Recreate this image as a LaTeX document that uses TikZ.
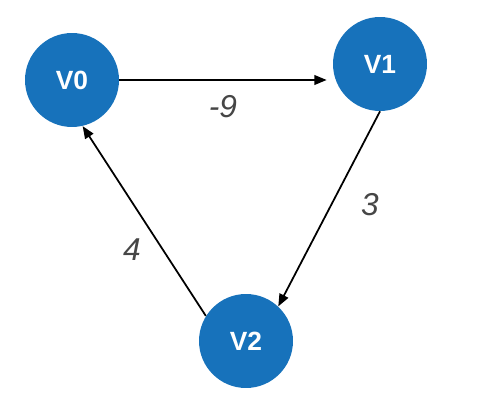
\documentclass[tikz,border=0pt]{standalone}
\usepackage{fontspec}
\setmainfont{Liberation Sans}
\usetikzlibrary{arrows.meta}
\definecolor{vblue}{RGB}{23,114,187}
\definecolor{wgray}{RGB}{70,70,70}
\begin{document}
\begin{tikzpicture}[x=0.02cm,y=-0.02cm,
        vertex/.style={circle,fill=vblue,minimum size=1.88cm,inner sep=0pt,text=white,font=\fontsize{15}{18}\selectfont\bfseries},
        edge/.style={-{Triangle[length=7pt,width=5.5pt]},line width=1pt},
        weight/.style={text=wgray,font=\fontsize{18}{21}\selectfont\itshape}]
        \useasboundingbox (0,0) rectangle (500,418);
        \node[vertex] (v0) at (72,80) {V0};
        \node[vertex] (v1) at (380,64) {V1};
        \node[vertex] (v2) at (246,341) {V2};
        \draw[edge,shorten >=0.12cm] (v0.east) -- (v0.east -| v1.west);
        \draw[edge] (v1.south) -- (v2.47);
        \draw[edge] (v2.148) -- (v0.283);
        \node[weight] (w01) at (223,107) {-9};
        \node[weight] (w12) at (370,205) {3};
        \node[weight] (w20) at (132,250) {4};
    \end{tikzpicture}
\end{document}
